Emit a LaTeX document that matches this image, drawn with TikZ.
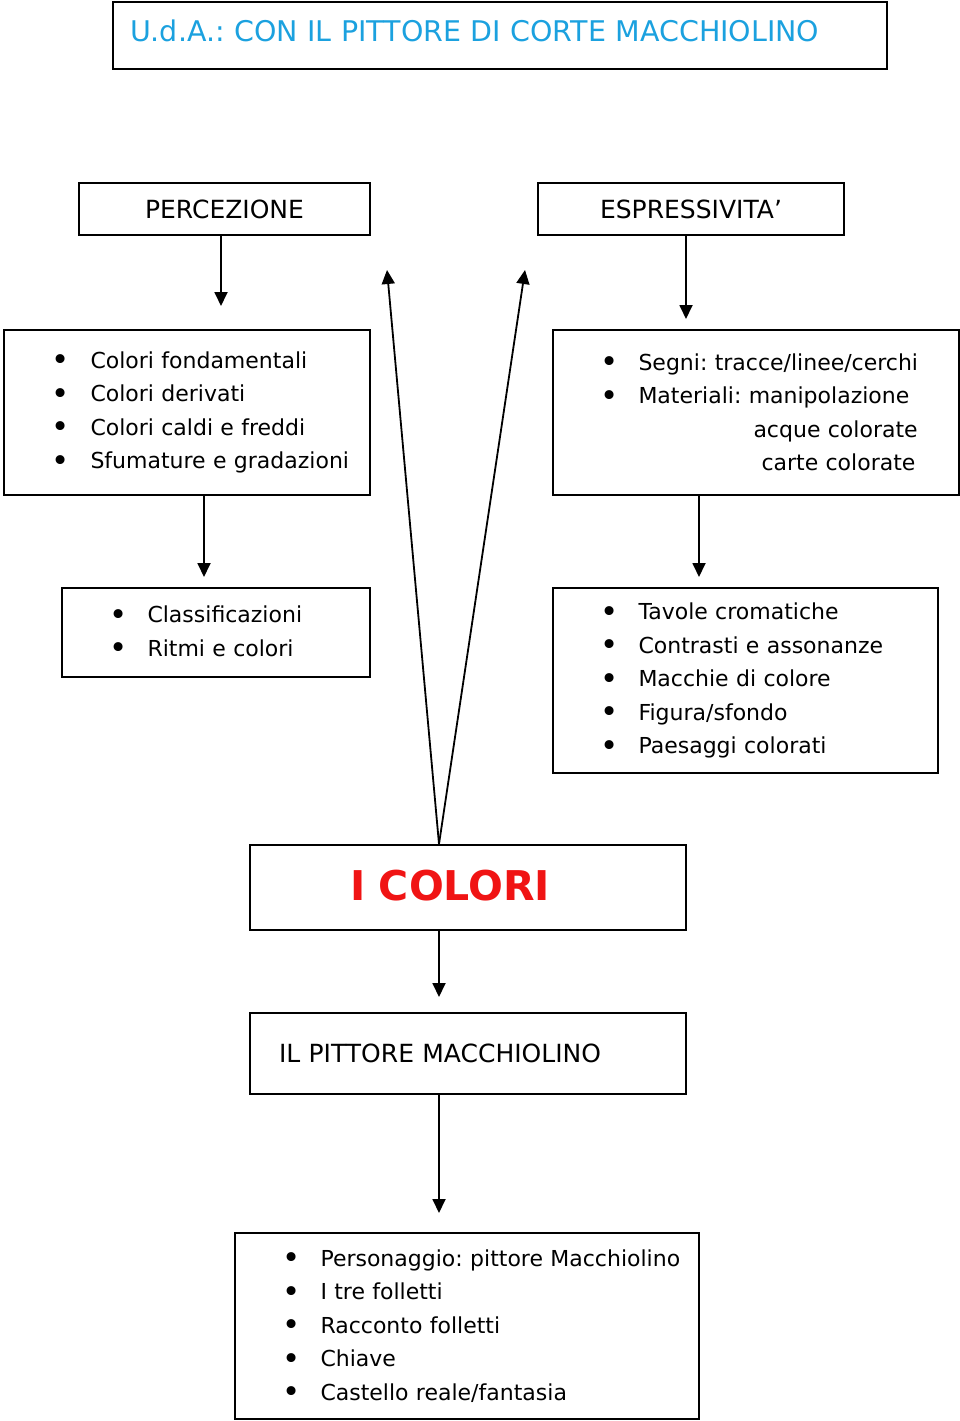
\documentclass[tikz,border=0pt]{standalone}
\usepackage{fontspec}
\setmainfont{DejaVu Sans}
\usetikzlibrary{arrows.meta}
\definecolor{udacyan}{HTML}{1BA1DF}
\definecolor{colorired}{HTML}{F01414}
\newcommand{\itm}[1]{\mbox{\makebox[36pt][l]{\hspace*{-2.5pt}\raisebox{-2.5pt}{\scalebox{1.4}{\textbullet}}}#1}}
\frenchspacing
\tikzset{
  box/.style={draw, line width=2pt, rectangle, inner ysep=0pt},
  headbox/.style={box, font=\fontsize{25}{30}\selectfont},
  listbox/.style={box, align=left, font=\fontsize{22}{33.5}\selectfont},
  arr/.style={line width=1.8pt, -{Triangle[length=14pt,width=13pt]}}
}
\begin{document}
\begin{tikzpicture}[x=1pt,y=-1pt]
\useasboundingbox (0,0) rectangle (960,1421);

\node[box, align=left, text=udacyan, font=\fontsize{28.5}{34}\selectfont, text width=740pt, inner xsep=17pt, minimum height=67pt, text depth=9pt] (title) at (500,35.5) {U.d.A.: CON IL PITTORE DI CORTE MACCHIOLINO};

\node[headbox, minimum width=291pt, minimum height=52pt] (perc) at (224.5,209) {PERCEZIONE};
\node[headbox, minimum width=306pt, minimum height=52pt] (espr) at (691,209) {ESPRESSIVITA’};

\node[listbox, text width=265pt, inner xsep=50.5pt, minimum height=165pt] (percList) at (187,412.5)
  {\itm{Colori fondamentali}\\ \itm{Colori derivati}\\ \itm{Colori caldi e freddi}\\ \itm{Sfumature e gradazioni}};
\node[listbox, text width=307pt, inner xsep=49.5pt, minimum height=165pt] (esprList) at (756,412.5)
  {\itm{Segni: tracce/linee/cerchi}\\ \itm{Materiali: manipolazione}\\ \mbox{\hspace*{151pt}acque colorate}\\ \mbox{\hspace*{159pt}carte colorate}};
\node[listbox, text width=209pt, inner xsep=49.5pt, minimum height=89pt] (classList) at (216,632.5)
  {\itm{Classificazioni}\\ \itm{Ritmi e colori}};
\node[listbox, text width=286pt, inner xsep=49.5pt, minimum height=185pt] (tavList) at (745.5,680.5)
  {\itm{Tavole cromatiche}\\ \itm{Contrasti e assonanze}\\ \itm{Macchie di colore}\\ \itm{Figura/sfondo}\\ \itm{Paesaggi colorati}};

\node[box, align=left, text=colorired, font=\bfseries\fontsize{41}{46}\selectfont, text width=236pt, inner xsep=100pt, minimum height=85pt, text depth=5pt] (colori) at (468,887.5) {I COLORI};
\node[headbox, align=left, text width=378pt, inner xsep=29pt, minimum height=81pt] (pittore) at (468,1053.5) {IL PITTORE MACCHIOLINO};
\node[listbox, text width=365pt, inner xsep=49.5pt, minimum height=186pt] (persList) at (467,1326)
  {\itm{Personaggio: pittore Macchiolino}\\ \itm{I tre folletti}\\ \itm{Racconto folletti}\\ \itm{Chiave}\\ \itm{Castello reale/fantasia}};

\coordinate (percTip) at (221,306);
\coordinate (esprTip) at (686,319);
\coordinate (classTip) at (204,577);
\coordinate (tavTip) at (699,577);
\coordinate (upL) at (387,270);
\coordinate (upR) at (525,270);
\coordinate (stem) at (439,997);
\coordinate (pittTip) at (439,1213);

\draw[arr] (perc.south -| percTip) -- (percTip);
\draw[arr] (espr.south -| esprTip) -- (esprTip);
\draw[arr] (percList.south -| classTip) -- (classTip);
\draw[arr] (esprList.south -| tavTip) -- (tavTip);
\draw[arr] (colori.north -| stem) -- (upL);
\draw[arr] (colori.north -| stem) -- (upR);
\draw[arr] (colori.south -| stem) -- (stem);
\draw[arr] (pittore.south -| pittTip) -- (pittTip);
\end{tikzpicture}
\end{document}
